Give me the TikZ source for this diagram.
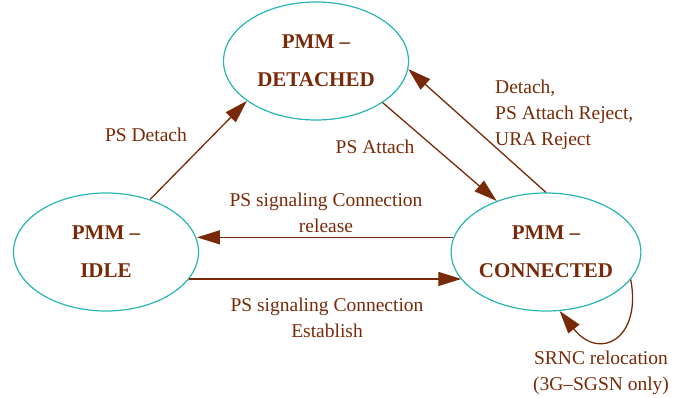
\documentclass[tikz,border=0pt]{standalone}
\usepackage{fontspec}
\setmainfont{Liberation Serif}
\usetikzlibrary{shapes.geometric,arrows.meta}
\definecolor{fsbrown}{RGB}{120,42,8}
\definecolor{fsteal}{RGB}{40,180,180}
\tikzset{
  state/.style={ellipse, draw=fsteal, line width=1.2pt, minimum width=185pt, minimum height=118pt, inner sep=0pt,
    text=fsbrown, align=center, font=\fontsize{21}{38}\selectfont\bfseries},
  lbl/.style={text=fsbrown, font=\fontsize{19.5}{26}\selectfont, inner sep=0pt, align=center},
  arr/.style={draw=fsbrown, line width=1.3pt, -{Triangle[length=23pt,width=14pt]}}
}
\begin{document}
\begin{tikzpicture}[x=1pt,y=-1pt]
\useasboundingbox (0,0) rectangle (688,398);
\node[state] (det) at (316,61) {PMM –\\DETACHED};
\node[state] (idle) at (106,252) {PMM –\\IDLE};
\node[state] (conn) at (546,252) {PMM –\\CONNECTED};

\draw[arr] (idle.50) -- (det.210);
\draw[arr] (det.-32) -- (conn.134);
\draw[arr] (conn.90) -- (det.-5);
\draw[arr] (conn.171.75) -- (conn.171.75 -| idle.8.25);
\draw[arr] (idle.-18.3) -- (idle.-18.3 -| conn.198.3);
\draw[arr] (conn.-18) .. controls (642,338) and (600,362) .. (conn.-77);

\node[lbl] (l1) at (146,135) {PS Detach};
\node[lbl] (l2) at (375,147) {PS Attach};
\node[lbl, anchor=west, align=left] (l3) at (495,115) {Detach,\\PS Attach Reject,\\URA Reject};
\node[lbl] (l4) at (326,213) {PS signaling Connection\\release};
\node[lbl] (l5) at (327,318) {PS signaling Connection\\Establish};
\node[lbl] (l6) at (601,373) {SRNC relocation\\(3G–SGSN only)};
\end{tikzpicture}
\end{document}
